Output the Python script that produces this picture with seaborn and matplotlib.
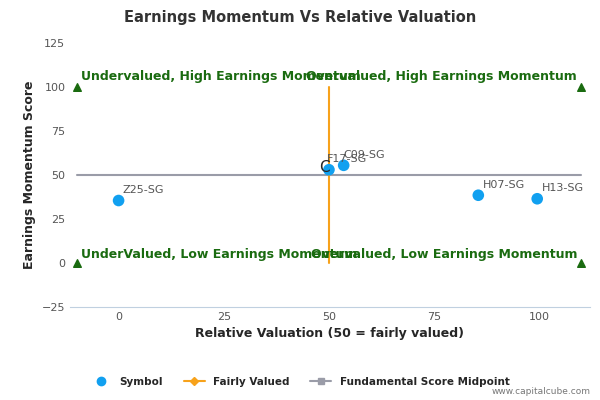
import numpy as np
import pandas as pd
import matplotlib
matplotlib.use('Agg')
import matplotlib.pyplot as plt
import seaborn as sns
from matplotlib.lines import Line2D

symbols = ['Z25-SG', 'F17-SG', 'C09-SG', 'H07-SG', 'H13-SG']
valuation = [0, 50, 53.5, 85.5, 99.5]
momentum = [35.5, 53, 55.5, 38.5, 36.5]
corner_x = [-10, 110, -10, 110]
corner_y = [100, 100, 0, 0]

sns.set_style('white')
plt.rcParams['font.family'] = ['DejaVu Sans']

fig = plt.figure(figsize=(6, 4), dpi=100)
ax = fig.add_axes([0.117, 0.2325, 0.866, 0.66])

df = pd.DataFrame({'x': valuation, 'y': momentum, 'sym': symbols})
ax.plot([-10, 110], [50, 50], color='#9a9ca8', lw=1.5, zorder=1)
ax.plot([50, 50], [0, 100], color='#f7a21b', lw=1.5, zorder=1)
sns.scatterplot(data=df, x='x', y='y', color='#11a0f0', s=70, edgecolor='none', ax=ax, zorder=3)
ax.scatter(corner_x, corner_y, marker='^', color='#1a6b10', s=30, zorder=3)
ax.text(49, 54, 'C', fontsize=11, ha='center', va='center', zorder=4)

offsets = {'Z25-SG': (1, 3), 'F17-SG': (-0.5, 3), 'C09-SG': (0, 3), 'H07-SG': (1, 3), 'H13-SG': (1, 3)}
for s, x, y in zip(symbols, valuation, momentum):
    dx, dy = offsets[s]
    ax.text(x + dx, y + dy, s, fontsize=8, color='#555555', ha='left', va='bottom')

g = '#1a6b10'
ax.text(-9, 106, 'Undervalued, High Earnings Momentum', color=g, fontsize=9, fontweight='bold', va='center')
ax.text(109, 106, 'Overvalued, High Earnings Momentum', color=g, fontsize=9, fontweight='bold', va='center', ha='right')
ax.text(-9, 5, 'UnderValued, Low Earnings Momentum', color=g, fontsize=9, fontweight='bold', va='center')
ax.text(109, 5, 'Overvalued, Low Earnings Momentum', color=g, fontsize=9, fontweight='bold', va='center', ha='right')

ax.set_xlim(-11.5, 112)
ax.set_ylim(-25, 125)
ax.set_xticks([0, 25, 50, 75, 100])
ax.set_yticks([-25, 0, 25, 50, 75, 100, 125])
ax.tick_params(labelsize=8, colors='#555555', length=0)
for sp in ['top', 'right', 'left']:
    ax.spines[sp].set_visible(False)
ax.spines['bottom'].set_color('#c0d0e0')
ax.set_xlabel('Relative Valuation (50 = fairly valued)', fontsize=9, fontweight='bold')
ax.set_ylabel('Earnings Momentum Score', fontsize=9, fontweight='bold')
fig.text(0.5, 0.945, 'Earnings Momentum Vs Relative Valuation', ha='center', fontsize=10.5, fontweight='bold', color='#333333')

handles = [Line2D([], [], marker='o', ls='none', color='#11a0f0', markersize=6),
           Line2D([], [], marker='D', color='#f7a21b', markersize=4),
           Line2D([], [], marker='s', color='#9a9ca8', markersize=5)]
fig.legend(handles, ['Symbol', 'Fairly Valued', 'Fundamental Score Midpoint'], loc='center',
           bbox_to_anchor=(0.5, 0.045), ncol=3, frameon=False, prop={'size': 7.5, 'weight': 'bold'},
           handlelength=2)
fig.text(0.985, 0.015, 'www.capitalcube.com', ha='right', fontsize=6.5, color='#777777')

fig.savefig('out.png', dpi=100)
